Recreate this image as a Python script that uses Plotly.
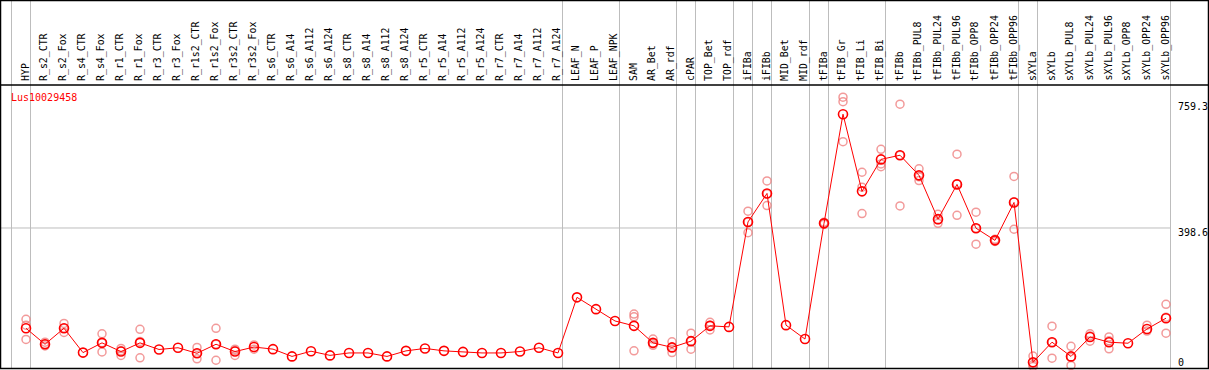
import plotly.graph_objects as go

W, H = 1209, 370

categories = ["HYP", "R_s2_CTR", "R_s2_Fox", "R_s4_CTR", "R_s4_Fox", "R_r1_CTR", "R_r1_Fox",
              "R_r3_CTR", "R_r3_Fox", "R_r1s2_CTR", "R_r1s2_Fox", "R_r3s2_CTR", "R_r3s2_Fox",
              "R_s6_CTR", "R_s6_A14", "R_s6_A112", "R_s6_A124", "R_s8_CTR", "R_s8_A14",
              "R_s8_A112", "R_s8_A124", "R_r5_CTR", "R_r5_A14", "R_r5_A112", "R_r5_A124",
              "R_r7_CTR", "R_r7_A14", "R_r7_A112", "R_r7_A124", "LEAF_N", "LEAF_P", "LEAF_NPK",
              "SAM", "AR_Bet", "AR_rdf", "cPAR", "TOP_Bet", "TOP_rdf", "iFIBa", "iFIBb",
              "MID_Bet", "MID_rdf", "tFIBa", "tFIB_Gr", "tFIB_Li", "tFIB_Bi", "tFIBb",
              "tFIBb_PUL8", "tFIBb_PUL24", "tFIBb_PUL96", "tFIBb_OPP8", "tFIBb_OPP24",
              "tFIBb_OPP96", "sXYLa", "sXYLb", "sXYLb_PUL8", "sXYLb_PUL24", "sXYLb_PUL96",
              "sXYLb_OPP8", "sXYLb_OPP24", "sXYLb_OPP96"]

means = [110, 64, 110, 40, 68, 43, 68, 49, 54, 38, 64, 43, 56, 50, 29, 44, 32, 39, 39, 29,
         45, 52, 45, 42, 39, 39, 43, 54, 39, 199, 165, 131, 117, 68, 55, 73, 117, 114, 416,
         498, 119, 79, 412, 726, 504, 596, 608, 550, 424, 524, 398, 363, 472, 12, 70, 29,
         85, 70, 67, 108, 139]

replicates = [[136, 119, 78], [70, 64, 59], [124, 110, 98], [], [94, 68, 42], [52, 45, 32],
              [107, 72, 25], [], [], [55, 38, 22], [110, 64, 18], [50, 46, 32], [62, 50], [],
              [], [], [], [], [], [], [], [], [], [], [], [], [], [], [],
              [], [], [], [151, 143, 45], [79, 66, 61], [71, 55, 40], [96, 73, 50],
              [127, 119, 105], [], [447, 416, 385], [534, 497, 463], [], [], [415, 412, 409],
              [775, 762, 647], [559, 516, 440], [625, 583, 575], [755, 608, 462],
              [569, 546, 535], [438, 422, 412], [611, 526, 435], [444, 398, 352],
              [366, 363, 360], [547, 474, 395], [30, 5, 0], [116, 70, 24], [58, 26, 3],
              [94, 88, 73], [85, 74, 51], [], [119, 102], [179, 142, 96]]

# group separators drawn after these category indices
separators_after = [-1, 0, 28, 31, 34, 35, 37, 38, 39, 41, 42, 45, 52, 53, 60]

y_tick_labels = ["759.3", "398.6", "0"]
gene_name = "Lus10029458"

# pixel geometry helpers
X0, DX = 26.0, 19.0           # pixel x of first category, spacing
Y0, KY = 366.5, 0.3475        # pixel y of value 0, px per unit
xr = [(0 - X0) / DX, (W - X0) / DX]
yr = [(Y0 - H) / KY, Y0 / KY]


def py(px):
    return 1 - px / H


def px_x(px):
    return px / W


idx = list(range(len(categories)))
rx, ry = [], []
for i, reps in enumerate(replicates):
    for v in reps:
        rx.append(i)
        ry.append(v)

fig = go.Figure()
fig.add_trace(go.Scatter(x=rx, y=ry, mode="markers",
                         marker=dict(symbol="circle-open", size=8, color="rgba(238,120,120,0.75)",
                                     line=dict(width=1.5)),
                         hoverinfo="skip", showlegend=False))
fig.add_trace(go.Scatter(x=idx, y=means, mode="lines+markers",
                         line=dict(color="#ff0000", width=1),
                         marker=dict(symbol="circle-open", size=9, color="#ff0000",
                                     line=dict(width=1.6)),
                         showlegend=False))

shapes = []
for s in separators_after:
    shapes.append(dict(type="line", xref="x", yref="paper", x0=s + 0.237, x1=s + 0.237,
                       y0=py(368), y1=py(1), line=dict(color="#bdbdbd", width=1), layer="below"))
# horizontal grey guide at the middle tick value
shapes.append(dict(type="line", xref="paper", yref="y", x0=px_x(1), x1=px_x(1170.7),
                   y0=398.6, y1=398.6, line=dict(color="#bdbdbd", width=1), layer="below"))
# frame and header separator
shapes.append(dict(type="rect", xref="paper", yref="paper", x0=px_x(0.5), x1=px_x(1208.5),
                   y0=py(368.5), y1=py(0.5), line=dict(color="black", width=1.5)))
shapes.append(dict(type="line", xref="paper", yref="paper", x0=0, x1=1,
                   y0=py(85), y1=py(85), line=dict(color="black", width=1.5)))

mono = "DejaVu Sans Mono"
annotations = []
for i, c in enumerate(categories):
    annotations.append(dict(x=i, xref="x", y=py(83), yref="paper", text=c, showarrow=False,
                            textangle=-90, xanchor="center", yanchor="bottom", xshift=-1,
                            font=dict(family=mono, size=9.9, color="black")))
for t, ypx in zip(y_tick_labels, [107, 232, 362]):
    annotations.append(dict(x=px_x(1176), xref="paper", y=py(ypx), yref="paper", text=t,
                            showarrow=False, xanchor="left", yanchor="middle",
                            font=dict(family=mono, size=10, color="black")))
annotations.append(dict(x=px_x(9), xref="paper", y=py(97), yref="paper", text=gene_name,
                        showarrow=False, xanchor="left", yanchor="middle",
                        font=dict(family=mono, size=10, color="#ff0000")))

fig.update_layout(width=W, height=H, margin=dict(l=0, r=0, t=0, b=0),
                  paper_bgcolor="white", plot_bgcolor="white",
                  xaxis=dict(range=xr, visible=False, showgrid=False, zeroline=False),
                  yaxis=dict(range=yr, visible=False, showgrid=False, zeroline=False),
                  shapes=shapes, annotations=annotations)

fig.write_html("out.html", config={"displayModeBar": False},
               post_script="document.body.style.margin='0';")
